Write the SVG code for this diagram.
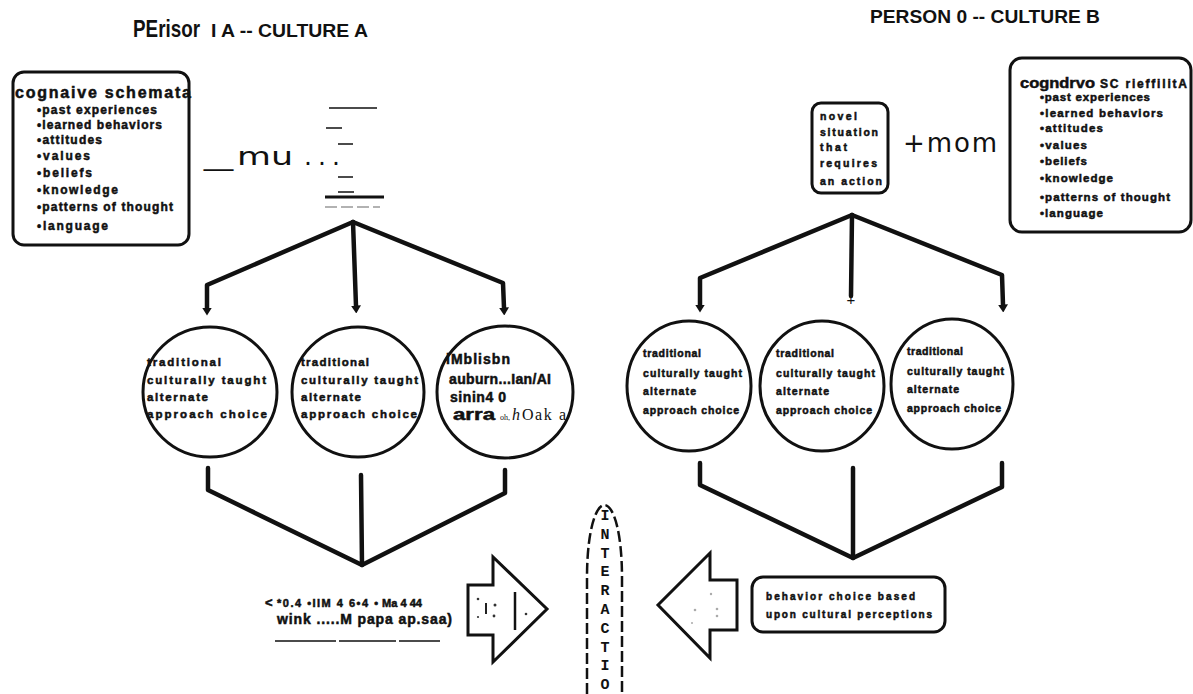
<svg xmlns="http://www.w3.org/2000/svg" width="1193" height="694" viewBox="0 0 1193 694">
<defs>
<style>
.ln{fill:none;stroke:#111;stroke-width:4.5;stroke-linejoin:round;stroke-linecap:round}
.thin{fill:none;stroke:#111;stroke-width:1.6}
.box{fill:none;stroke:#111;stroke-width:3}
.circ{fill:none;stroke:#111;stroke-width:3}
.blob{font-family:"Liberation Sans",Arial,sans-serif;font-weight:bold;fill:#111;stroke:#111;stroke-width:0.5}
.ttl{font-family:"Liberation Sans",Arial,sans-serif;font-weight:bold;fill:#111}
.ser{font-family:"Liberation Serif","Times New Roman",serif;fill:#111;stroke:none}
.geo{font-family:"DejaVu Sans",Verdana,sans-serif;fill:#111}
.dot{fill:#333}
.fdot{fill:#aaa}
</style>
<marker id="ah" markerUnits="userSpaceOnUse" viewBox="0 0 8 10" markerWidth="8" markerHeight="10" refX="0.5" refY="5" orient="auto">
<path d="M0,0 L8,5 L0,10 z" fill="#111"/>
</marker>
</defs>
<rect width="1193" height="694" fill="#fff"/>

<g id="title-a">
<text class="ttl" y="37"><tspan x="133" font-size="24" textLength="67" lengthAdjust="spacingAndGlyphs">PErisor</tspan><tspan x="211" font-size="18" textLength="157" lengthAdjust="spacingAndGlyphs">I A -- CULTURE A</tspan></text>
</g>
<g id="title-b">
<text class="ttl" x="870" y="23" font-size="19" textLength="230" lengthAdjust="spacingAndGlyphs">PERSON 0 -- CULTURE B</text>
</g>

<g id="schemata-a">
<rect class="box" x="13" y="72" width="176" height="173" rx="11"/>
<text class="blob" x="15" y="98" font-size="16" textLength="176" lengthAdjust="spacing">cognaive schemata</text>
<g class="blob" font-size="12">
<text x="37" y="114" textLength="120" lengthAdjust="spacing">•past experiences</text>
<text x="37" y="129" textLength="125" lengthAdjust="spacing">•learned behaviors</text>
<text x="37" y="144" textLength="65" lengthAdjust="spacing">•attitudes</text>
<text x="37" y="160" textLength="53" lengthAdjust="spacing">•values</text>
<text x="37" y="177" textLength="55" lengthAdjust="spacing">•beliefs</text>
<text x="37" y="194" textLength="81" lengthAdjust="spacing">•knowledge</text>
<text x="37" y="211" textLength="136" lengthAdjust="spacing">•patterns of thought</text>
<text x="37" y="230" textLength="71" lengthAdjust="spacing">•language</text>
</g>
</g>

<g id="mu-note">
<text class="geo" font-size="25" y="165"><tspan x="204" textLength="29" lengthAdjust="spacingAndGlyphs">_</tspan><tspan x="237" textLength="56" lengthAdjust="spacingAndGlyphs">mu</tspan><tspan x="304 318 332">...</tspan></text>
<path class="thin" d="M329,108 H377 M326,128 H342 M338,144 H353 M338,177 H353 M338,192 H354"/>
<path d="M325,197 H384" stroke="#111" stroke-width="3"/>
<path d="M325,207 H380" stroke="#999" stroke-width="1.5" stroke-dasharray="12 4"/>
</g>

<g id="novel-situation">
<rect class="box" x="812" y="103" width="76" height="90" rx="9"/>
<g class="blob" font-size="10.5">
<text x="820" y="120" textLength="37" lengthAdjust="spacing">novel</text>
<text x="820" y="136" textLength="58" lengthAdjust="spacing">situation</text>
<text x="820" y="151" textLength="27" lengthAdjust="spacing">that</text>
<text x="820" y="167" textLength="57" lengthAdjust="spacing">requires</text>
<text x="820" y="185" textLength="62" lengthAdjust="spacing">an action</text>
</g>
</g>

<g id="mom-label">
<text class="geo" x="903" y="152" font-size="26" textLength="94" lengthAdjust="spacing">+mom</text>
</g>

<g id="schemata-b">
<rect class="box" x="1010" y="58" width="181" height="174" rx="12"/>
<text class="blob" x="1020" y="88" font-size="15" textLength="75" lengthAdjust="spacingAndGlyphs">cogndrvo</text>
<text class="blob" x="1100" y="88" font-size="12" textLength="87" lengthAdjust="spacing">SC rieffilitA</text>
<g class="blob" font-size="11.5">
<text x="1040" y="101" textLength="110" lengthAdjust="spacing">•past experiences</text>
<text x="1040" y="117" textLength="123" lengthAdjust="spacing">•learned behaviors</text>
<text x="1040" y="132" textLength="63" lengthAdjust="spacing">•attitudes</text>
<text x="1040" y="149" textLength="47" lengthAdjust="spacing">•values</text>
<text x="1040" y="165" textLength="47" lengthAdjust="spacing">•beliefs</text>
<text x="1040" y="182" textLength="73" lengthAdjust="spacing">•knowledge</text>
<text x="1040" y="201" textLength="130" lengthAdjust="spacing">•patterns of thought</text>
<text x="1040" y="217" textLength="63" lengthAdjust="spacing">•language</text>
</g>
</g>

<g id="choice-a1">
<ellipse class="circ" cx="210" cy="392" rx="67" ry="65"/>
<g class="blob" font-size="11.5">
<text x="147" y="366" textLength="74" lengthAdjust="spacing">traditional</text>
<text x="147" y="384" textLength="119" lengthAdjust="spacing">culturally taught</text>
<text x="147" y="401" textLength="61" lengthAdjust="spacing">alternate</text>
<text x="147" y="418" textLength="120" lengthAdjust="spacing">approach choice</text>
</g>
</g>
<g id="choice-a2">
<ellipse class="circ" cx="358" cy="392" rx="66" ry="65"/>
<g class="blob" font-size="11.5">
<text x="301" y="366" textLength="68" lengthAdjust="spacing">traditional</text>
<text x="301" y="384" textLength="117" lengthAdjust="spacing">culturally taught</text>
<text x="301" y="401" textLength="60" lengthAdjust="spacing">alternate</text>
<text x="301" y="418" textLength="116" lengthAdjust="spacing">approach choice</text>
</g>
</g>
<g id="choice-a3">
<ellipse class="circ" cx="505" cy="392" rx="68" ry="66"/>
<text class="blob" x="446" y="364" font-size="14" textLength="64" lengthAdjust="spacing">iMblisbn</text>
<text class="blob" x="449" y="384" font-size="14" textLength="102" lengthAdjust="spacing">auburn...Ian/AI</text>
<text class="blob" x="450" y="402" font-size="14" textLength="56" lengthAdjust="spacing">sinin4 0</text>
<text y="420" fill="#111"><tspan class="blob" x="453" font-size="16" textLength="42" lengthAdjust="spacingAndGlyphs">arra</tspan><tspan class="ser" x="500" font-size="8">oh,</tspan><tspan class="ser" x="512" font-size="16" font-style="italic">h</tspan><tspan class="ser" x="522" font-size="16" textLength="44" lengthAdjust="spacing">Oak a</tspan></text>
</g>

<g id="choice-b1">
<ellipse class="circ" cx="689" cy="386" rx="62" ry="65"/>
<g class="blob" font-size="10.5">
<text x="643" y="357" textLength="58" lengthAdjust="spacing">traditional</text>
<text x="643" y="377" textLength="99" lengthAdjust="spacing">culturally taught</text>
<text x="643" y="395" textLength="53" lengthAdjust="spacing">alternate</text>
<text x="643" y="414" textLength="96" lengthAdjust="spacing">approach choice</text>
</g>
</g>
<g id="choice-b2">
<ellipse class="circ" cx="822" cy="386" rx="62" ry="65"/>
<g class="blob" font-size="10.5">
<text x="776" y="357" textLength="58" lengthAdjust="spacing">traditional</text>
<text x="776" y="377" textLength="99" lengthAdjust="spacing">culturally taught</text>
<text x="776" y="395" textLength="53" lengthAdjust="spacing">alternate</text>
<text x="776" y="414" textLength="96" lengthAdjust="spacing">approach choice</text>
</g>
</g>
<g id="choice-b3">
<ellipse class="circ" cx="952" cy="384" rx="61" ry="65"/>
<g class="blob" font-size="10.5">
<text x="907" y="355" textLength="56" lengthAdjust="spacing">traditional</text>
<text x="907" y="375" textLength="97" lengthAdjust="spacing">culturally taught</text>
<text x="907" y="393" textLength="52" lengthAdjust="spacing">alternate</text>
<text x="907" y="412" textLength="94" lengthAdjust="spacing">approach choice</text>
</g>
</g>

<g id="behavior-a">
<text y="607"><tspan class="blob" x="265" font-size="13">&lt;</tspan><tspan class="blob" x="277" font-size="11" textLength="101" lengthAdjust="spacing">*0.4 •IIM 4 6•4 •</tspan><tspan class="blob" x="382" font-size="11" textLength="40" lengthAdjust="spacingAndGlyphs">Ma 4 44</tspan></text>
<text class="blob" x="277" y="624" font-size="14" textLength="175" lengthAdjust="spacing">wink .....M papa ap.saa)</text>
<path class="thin" d="M275,641 H336 M339,641 H396 M399,641 H440"/>
</g>

<g id="arrow-a">
<polygon points="468,585 493,585 493,557 547,609 493,662 493,635 468,635" fill="none" stroke="#111" stroke-width="3" stroke-linejoin="miter"/>
<path d="M515,592 V630" stroke="#111" stroke-width="2.5"/>
<path d="M486,603 V614" stroke="#222" stroke-width="2"/>
<circle class="dot" cx="478" cy="599" r="1.3"/>
<circle class="dot" cx="495" cy="605" r="1.5"/>
<circle class="dot" cx="478" cy="617" r="1.1"/>
<circle class="dot" cx="494" cy="616" r="1.4"/>
<circle class="dot" cx="526" cy="614" r="1.3"/>
</g>

<g id="interaction">
<path d="M587,694 V578 C587,530 596,505 604.5,505 C613,505 622,530 622,578 V694" fill="none" stroke="#111" stroke-width="2.5" stroke-dasharray="11 4"/>
<g font-family="Liberation Mono,Courier New,monospace" font-weight="bold" font-size="15" fill="#111" text-anchor="middle">
<text x="605" y="520">I</text>
<text x="605" y="539">N</text>
<text x="605" y="558">T</text>
<text x="605" y="576">E</text>
<text x="605" y="595">R</text>
<text x="605" y="614">A</text>
<text x="605" y="633">C</text>
<text x="605" y="652">T</text>
<text x="605" y="670">I</text>
<text x="605" y="689">O</text>
</g>
</g>

<g id="arrow-b">
<polygon points="737,580 710,580 710,553 658,605 710,658 710,630 737,630" fill="none" stroke="#111" stroke-width="3" stroke-linejoin="miter"/>
<circle class="fdot" cx="711" cy="594" r="1.2"/>
<circle class="fdot" cx="695" cy="610" r="1.3"/>
<circle class="fdot" cx="717" cy="609" r="1.3"/>
<circle class="fdot" cx="717" cy="616" r="1.3"/>
<circle class="fdot" cx="692" cy="623" r="1"/>
</g>

<g id="behavior-b">
<rect class="box" x="752" y="577" width="193" height="55" rx="11"/>
<g class="blob" font-size="10">
<text x="766" y="600" textLength="149" lengthAdjust="spacing">behavior choice based</text>
<text x="766" y="618" textLength="166" lengthAdjust="spacing">upon cultural perceptions</text>
</g>
</g>

<g id="connectors">
<path class="ln" d="M353,222 L207,285 L207,308" marker-end="url(#ah)"/>
<path class="ln" d="M353,222 L356,306" marker-end="url(#ah)"/>
<path class="ln" d="M353,222 L503,283 L504,308" marker-end="url(#ah)"/>
<path class="ln" d="M852,215 L700,278 L700,305" marker-end="url(#ah)"/>
<path class="ln" d="M852,215 L851,296" stroke-width="3.5"/>
<text x="851" y="305" font-family="Liberation Sans,Arial,sans-serif" font-size="15" text-anchor="middle" fill="#111">+</text>
<path class="ln" d="M852,215 L1002,275 L1003,305" marker-end="url(#ah)"/>
<path class="ln" d="M208,468 L208,490 L362,565 L505,493 L505,470"/>
<path class="ln" d="M361,475 L362,565"/>
<path class="ln" d="M700,463 L700,485 L853,558 L1002,487 L1002,463"/>
<path class="ln" d="M853,468 L853,558"/>
</g>
</svg>
